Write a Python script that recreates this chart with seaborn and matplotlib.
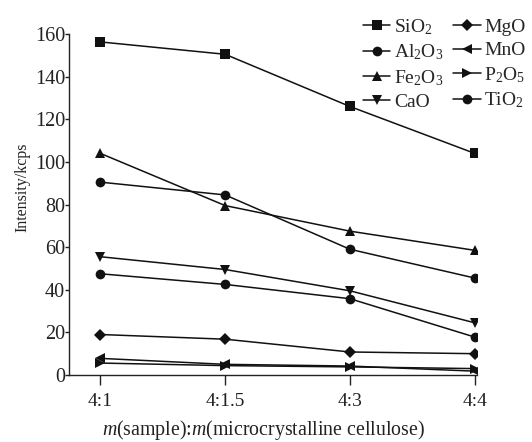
import matplotlib
matplotlib.use("Agg")
import matplotlib.pyplot as plt
import seaborn as sns
import pandas as pd

categories = ["4:1", "4:1.5", "4:3", "4:4"]
SiO2 = [156.3, 150.5, 126.0, 104.0]
Al2O3 = [90.5, 84.5, 59.0, 45.5]
Fe2O3 = [104.0, 79.5, 67.5, 58.5]
CaO = [55.5, 49.5, 39.5, 24.5]
MgO = [19.0, 16.8, 10.8, 10.0]
MnO = [7.8, 5.0, 4.2, 1.8]
P2O5 = [5.6, 4.4, 3.8, 3.0]
TiO2 = [47.5, 42.5, 35.8, 17.8]

series = [
    ("SiO$_2$", SiO2, "s"),
    ("Al$_2$O$_3$", Al2O3, "o"),
    ("Fe$_2$O$_3$", Fe2O3, "^"),
    ("CaO", CaO, "v"),
    ("MgO", MgO, "D"),
    ("MnO", MnO, "<"),
    ("P$_2$O$_5$", P2O5, ">"),
    ("TiO$_2$", TiO2, "o"),
]

sns.set_style("ticks")
plt.rcParams["font.family"] = ["Liberation Serif", "DejaVu Serif"]
plt.rcParams["mathtext.fontset"] = "custom"
plt.rcParams["mathtext.rm"] = "Liberation Serif"
plt.rcParams["mathtext.it"] = "Liberation Serif:italic"

fig = plt.figure(figsize=(5.32, 4.42), dpi=100)
ax = fig.add_axes([0.130, 0.1516, 0.767, 0.7714])

for name, vals, mk in series:
    df = pd.DataFrame({"x": range(len(categories)), "y": vals})
    ms = 6 if mk == "D" else 7
    sns.lineplot(data=df, x="x", y="y", ax=ax, color="#111111", lw=1.1,
                 marker=mk, markersize=ms, markeredgewidth=0, label=name,
                 legend=False)

ax.set_xlim(-0.25, 3.02)
ax.set_ylim(0, 160)
ax.set_xticks(range(len(categories)))
ax.set_xticklabels(categories)
ax.set_yticks(range(0, 161, 20))
ax.tick_params(axis="x", labelsize=14, direction="out", length=7, pad=6, width=1,
               color="#222222", labelcolor="#222222")
ax.tick_params(axis="y", labelsize=14.5, direction="out", length=3, pad=0, width=1,
               color="#222222", labelcolor="#222222")
for s in ["top", "right"]:
    ax.spines[s].set_visible(False)
for s in ["left", "bottom"]:
    ax.spines[s].set_color("#222222")
    ax.spines[s].set_linewidth(1)
ax.set_xlabel("$m$(sample):$m$(microcrystalline cellulose)", fontsize=14.3, color="#222222")
ax.xaxis.set_label_coords(0.477, -0.126)
ax.set_ylabel("Intensity/kcps", fontsize=11.5, color="#222222")
ax.yaxis.set_label_coords(-0.095, 0.551)

handles, labels = ax.get_legend_handles_labels()
fig.legend(handles, labels, loc="upper right", bbox_to_anchor=(1.01, 0.988), ncol=2,
           frameon=False, fontsize=14, handlelength=1.4, handletextpad=0.2,
           columnspacing=0.5, labelspacing=0.3, borderaxespad=0.2)

fig.savefig("out.png", dpi=100)
